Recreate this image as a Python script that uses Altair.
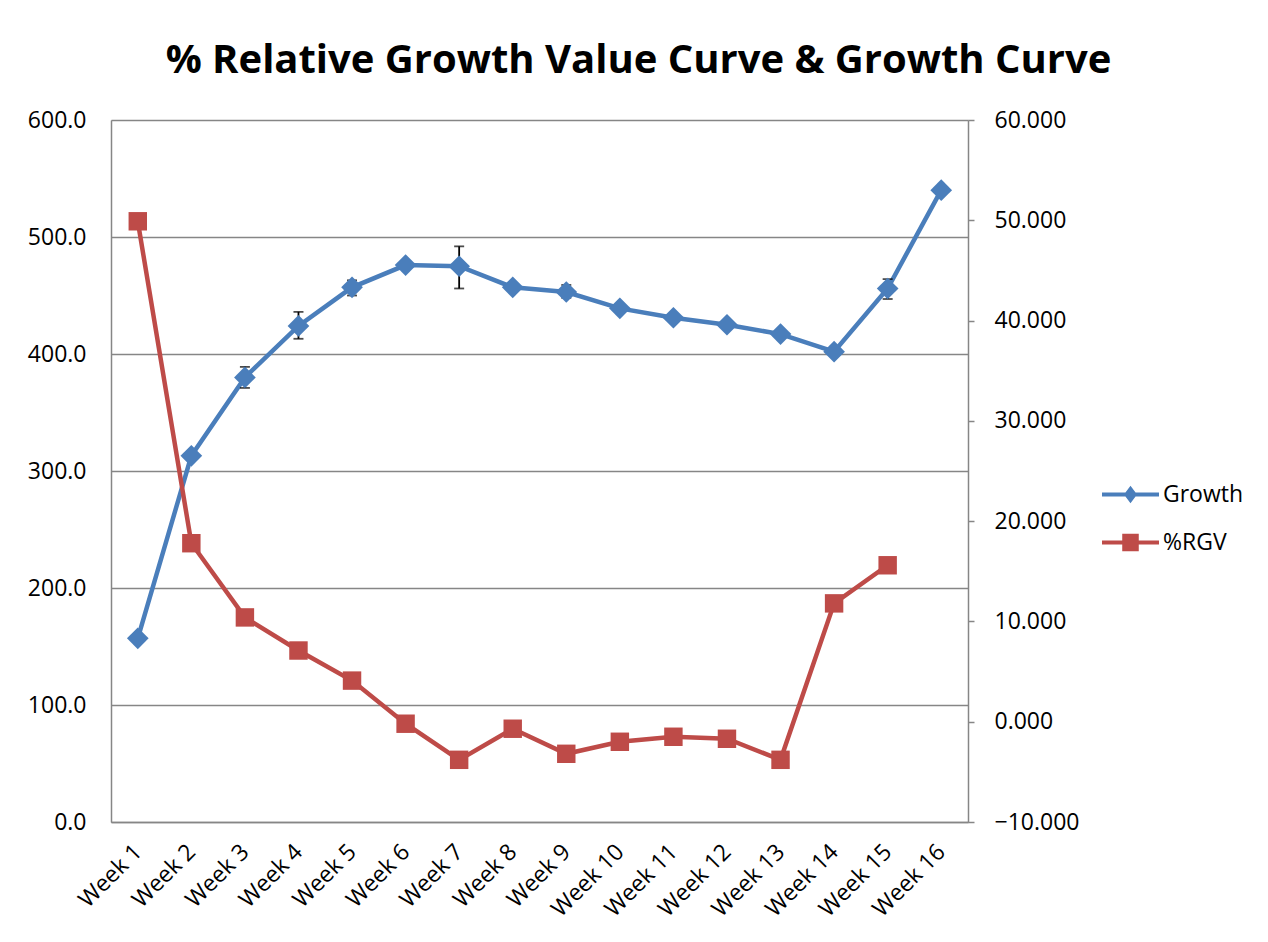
import altair as alt
import pandas as pd

weeks = ["Week 1", "Week 2", "Week 3", "Week 4", "Week 5", "Week 6", "Week 7", "Week 8",
         "Week 9", "Week 10", "Week 11", "Week 12", "Week 13", "Week 14", "Week 15", "Week 16"]
growth = [157, 313, 380, 424, 457, 476, 475, 457, 453, 439, 431, 425, 417, 402, 456, 540]
rgv = [49.9, 17.8, 10.4, 7.1, 4.1, -0.2, -3.8, -0.7, -3.2, -2.0, -1.5, -1.7, -3.8, 11.8, 15.6, None]

err_weeks = ["Week 3", "Week 4", "Week 5", "Week 7", "Week 9", "Week 15"]
err_low = [371, 413, 450, 456, 448, 447]
err_high = [389, 436, 463, 492, 459, 464]

series_names = ["Growth", "%RGV"]
series_colors = ["#4A7EBB", "#BE4B48"]
legend_shapes = [
    "M-2,-0.14L2,-0.14L2,0.14L-2,0.14Z M0,-0.62L0.46,0L0,0.62L-0.46,0Z",
    "M-2,-0.14L2,-0.14L2,0.14L-2,0.14Z M-0.58,-0.62L0.58,-0.62L0.58,0.62L-0.58,0.62Z",
]

FONT = "Open Sans"
GRAY = "#868686"

gdf = pd.DataFrame({"week": weeks, "value": growth})
rdf = pd.DataFrame({"week": weeks, "value": rgv}).dropna()
edf = pd.DataFrame({"week": err_weeks, "low": err_low, "high": err_high})
ldf = pd.DataFrame({"week": weeks[:2], "value": growth[:2], "series": series_names})

x_enc = alt.X(
    "week:N", sort=weeks, title=None,
    scale=alt.Scale(type="point", padding=0.5, domain=weeks),
    axis=alt.Axis(labelAngle=-45, labelAlign="right", labelBaseline="middle",
                  labelFontSize=23, labelFont=FONT, labelColor="black", labelPadding=26,
                  ticks=False, domainColor=GRAY, domainWidth=1.5),
)

left_scale = alt.Scale(domain=[0, 600], nice=False, zero=False)
left_axis = alt.Axis(values=[0, 100, 200, 300, 400, 500, 600], format=".1f", title=None,
                     grid=True, gridColor=GRAY, gridWidth=1.5, ticks=False,
                     labelFontSize=23, labelFont=FONT, labelColor="black", labelPadding=25,
                     domainColor=GRAY, domainWidth=1.5)
right_scale = alt.Scale(domain=[-10, 60], nice=False, zero=False)
right_axis = alt.Axis(orient="right", values=[-10, 0, 10, 20, 30, 40, 50, 60], format=".3f",
                      title=None, grid=False, tickSize=6, tickColor=GRAY, tickWidth=1.5,
                      labelFontSize=23, labelFont=FONT, labelColor="black", labelPadding=20,
                      domainColor=GRAY, domainWidth=1.5)

leg = alt.Legend(title=None, orient="none", legendX=1005, legendY=360,
                 labelFontSize=23, labelFont=FONT, labelColor="black",
                 symbolSize=812, symbolOpacity=1, symbolStrokeWidth=0,
                 rowPadding=21, labelOffset=18)

g_line = alt.Chart(gdf).mark_line(color=series_colors[0], strokeWidth=4.5).encode(
    x=x_enc, y=alt.Y("value:Q", scale=left_scale, axis=left_axis))
g_pts = alt.Chart(gdf).mark_point(shape="diamond", filled=True, opacity=1,
                                   color=series_colors[0], size=470).encode(
    x=x_enc, y=alt.Y("value:Q", scale=left_scale))
e_rule = alt.Chart(edf).mark_rule(color="black", strokeWidth=1.8).encode(
    x=x_enc, y=alt.Y("low:Q", scale=left_scale), y2="high:Q")
e_cap_lo = alt.Chart(edf).mark_tick(color="black", orient="horizontal", size=10, thickness=1.8).encode(
    x=x_enc, y=alt.Y("low:Q", scale=left_scale))
e_cap_hi = alt.Chart(edf).mark_tick(color="black", orient="horizontal", size=10, thickness=1.8).encode(
    x=x_enc, y=alt.Y("high:Q", scale=left_scale))
legend_layer = alt.Chart(ldf).mark_point(filled=True, opacity=0).encode(
    x=x_enc, y=alt.Y("value:Q", scale=left_scale),
    color=alt.Color("series:N", scale=alt.Scale(domain=series_names, range=series_colors),
                    legend=leg),
    shape=alt.Shape("series:N", scale=alt.Scale(domain=series_names, range=legend_shapes),
                    legend=leg),
)

left = alt.layer(g_line, e_rule, e_cap_lo, e_cap_hi, g_pts, legend_layer)

r_line = alt.Chart(rdf).mark_line(color=series_colors[1], strokeWidth=4.5).encode(
    x=x_enc, y=alt.Y("value:Q", scale=right_scale, axis=right_axis))
r_pts = alt.Chart(rdf).mark_point(shape="square", filled=True, opacity=1,
                                   color=series_colors[1], size=340).encode(
    x=x_enc, y=alt.Y("value:Q", scale=right_scale))
right = alt.layer(r_line, r_pts)

chart = alt.layer(left, right).resolve_scale(y="independent").properties(
    width=857, height=702,
    title=alt.TitleParams("% Relative Growth Value Curve & Growth Curve", font=FONT,
                          fontSize=40, fontWeight="bold", color="black", anchor="middle",
                          dx=99, dy=49, offset=45, baseline="alphabetic"),
    autosize=alt.AutoSizeParams(type="none"),
    padding={"left": 111, "top": 120, "right": 300, "bottom": 120},
).configure_view(stroke=GRAY, strokeWidth=1.5).configure(background="white")

chart.save("out.html", embed_options={"renderer": "svg", "actions": False})
